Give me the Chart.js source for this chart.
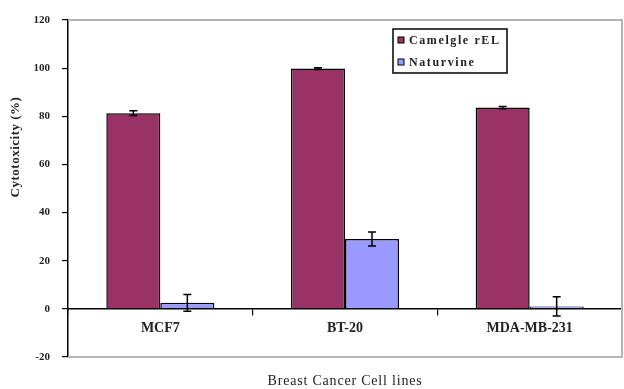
<!DOCTYPE html>
<html>
<head>
<meta charset="utf-8">
<script src="https://cdn.jsdelivr.net/npm/chart.js@4/dist/chart.umd.min.js"></script>
<style>
  html, body { margin: 0; padding: 0; background: #fff; }
  #wrap { width: 624px; height: 389px; position: relative; }
</style>
</head>
<body>
<div id="wrap"><canvas id="c" width="624" height="389"></canvas></div>
<script>
// Cell lines and cytotoxicity (%) with error bar half-widths
const categories = ['MCF7', 'BT-20', 'MDA-MB-231'];
const seriesNames = ['Camelgle rEL', 'Naturvine'];
const camelValues = [81.3, 99.8, 83.6];
const camelErrors = [1.0, 0.4, 0.5];
const naturValues = [2.5, 29.0, 1.0];
const naturErrors = [3.5, 2.9, 4.0];
const yTickValues = [-20, 0, 20, 40, 60, 80, 100, 120];
const yTitle = 'Cytotoxicity (%)';
const xTitle = 'Breast Cancer Cell lines';

const errorSets = [camelErrors, naturErrors];
const SERIF = "'Liberation Serif', 'DejaVu Serif', serif";

// Vertical error bars with caps, placed through the y scale
const errorBars = {
  id: 'errorBars',
  afterDatasetsDraw(chart) {
    const ctx = chart.ctx;
    const y = chart.scales.y;
    ctx.save();
    ctx.strokeStyle = '#000';
    ctx.lineWidth = 1.5;
    chart.data.datasets.forEach((ds, di) => {
      const meta = chart.getDatasetMeta(di);
      meta.data.forEach((bar, i) => {
        const v = ds.data[i], e = errorSets[di][i];
        const top = y.getPixelForValue(v + e);
        const bot = y.getPixelForValue(v - e);
        const cap = 4;
        ctx.beginPath();
        ctx.moveTo(bar.x, top); ctx.lineTo(bar.x, bot);
        ctx.moveTo(bar.x - cap, top); ctx.lineTo(bar.x + cap, top);
        ctx.moveTo(bar.x - cap, bot); ctx.lineTo(bar.x + cap, bot);
        ctx.stroke();
      });
    });
    ctx.restore();
  }
};

// Grey plot-area frame drawn beneath the bars
const plotFrame = {
  id: 'plotFrame',
  beforeDatasetsDraw(chart) {
    const { ctx, chartArea: a } = chart;
    ctx.save();
    ctx.strokeStyle = '#b4b4b4';
    ctx.lineWidth = 2;
    ctx.beginPath();
    ctx.moveTo(a.left, a.top); ctx.lineTo(a.right, a.top);
    ctx.lineTo(a.right, a.bottom); ctx.lineTo(a.left, a.bottom);
    ctx.stroke();
    ctx.restore();
  }
};

// Axis titles and the boxed legend
const annotations = {
  id: 'annotations',
  afterDraw(chart) {
    const { ctx, chartArea: a } = chart;
    ctx.save();
    ctx.fillStyle = '#222';
    // y title
    ctx.font = 'bold 13px ' + SERIF;
    ctx.letterSpacing = '0.5px';
    ctx.textAlign = 'center';
    ctx.textBaseline = 'middle';
    ctx.translate(16, 147);
    ctx.rotate(-Math.PI / 2);
    ctx.fillText(yTitle, 0, 0);
    ctx.restore();

    ctx.save();
    ctx.fillStyle = '#222';
    ctx.font = '14px ' + SERIF;
    ctx.letterSpacing = '0.8px';
    ctx.textAlign = 'center';
    ctx.textBaseline = 'middle';
    ctx.fillText(xTitle, (a.left + a.right) / 2, 381);

    // legend
    const bx = 393, by = 29, bw = 114, bh = 44;
    ctx.fillStyle = '#fff';
    ctx.fillRect(bx, by, bw, bh);
    ctx.strokeStyle = '#000';
    ctx.lineWidth = 1.5;
    ctx.strokeRect(bx, by, bw, bh);
    ctx.textAlign = 'left';
    ctx.font = 'bold 12px ' + SERIF;
    ctx.letterSpacing = '1.6px';
    chart.data.datasets.forEach((ds, i) => {
      const cy = by + 11 + i * 22;
      ctx.fillStyle = ds.backgroundColor;
      ctx.fillRect(bx + 5, cy - 3, 6, 6);
      ctx.strokeStyle = '#000';
      ctx.lineWidth = 1;
      ctx.strokeRect(bx + 5, cy - 3, 6, 6);
      ctx.fillStyle = '#222';
      ctx.fillText(ds.label, bx + 16, cy + 1);
    });
    ctx.restore();
  }
};

new Chart(document.getElementById('c'), {
  type: 'bar',
  data: {
    labels: categories,
    datasets: [
      { label: seriesNames[0], data: camelValues, backgroundColor: '#993366',
        borderColor: '#000', borderWidth: 1.5 },
      { label: seriesNames[1], data: naturValues, backgroundColor: '#9999ff',
        borderColor: '#000', borderWidth: 1.5 }
    ]
  },
  options: {
    responsive: false,
    animation: false,
    devicePixelRatio: 1,
    layout: { padding: { left: 0, right: 2, top: 20, bottom: 32 } },
    datasets: { bar: { categoryPercentage: 0.585, barPercentage: 1.0 } },
    plugins: { legend: { display: false }, tooltip: { enabled: false } },
    scales: {
      x: {
        position: { y: 0 },
        afterFit(scale) { scale.height = 0; },
        grid: { display: true, offset: true, drawOnChartArea: false, drawTicks: true,
                tickLength: 6, color: '#000', lineWidth: 1.2 },
        border: { display: true, color: '#000', width: 1.5 },
        ticks: { color: '#222', padding: 5, font: { family: SERIF, size: 14, weight: 'bold' } }
      },
      y: {
        min: -20, max: 120,
        afterFit(scale) { scale.width = 68; },
        afterBuildTicks(scale) { scale.ticks = yTickValues.map(v => ({ value: v })); },
        grid: { display: true, drawOnChartArea: false, drawTicks: true, tickLength: 6,
                color: '#000', lineWidth: 1.2 },
        border: { display: true, color: '#000', width: 1.5 },
        ticks: { color: '#222', padding: 12, font: { family: SERIF, size: 11, weight: 'bold' } }
      }
    }
  },
  plugins: [plotFrame, errorBars, annotations]
});
</script>
</body>
</html>
